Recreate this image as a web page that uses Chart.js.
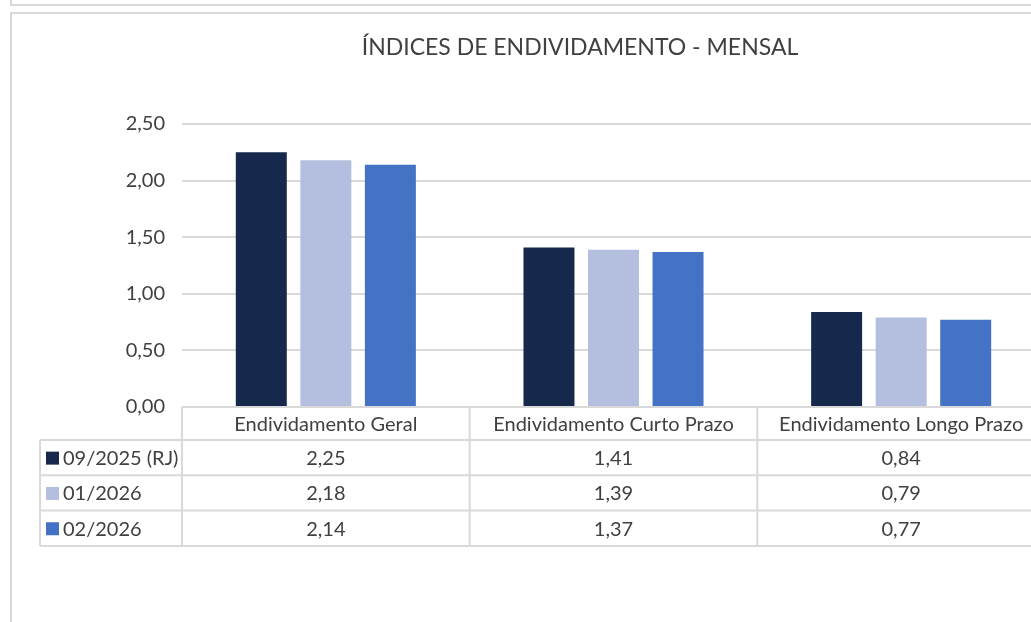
<!DOCTYPE html>
<html>
<head>
<meta charset="utf-8">
<script src="https://cdn.jsdelivr.net/npm/chart.js@4.4.1/dist/chart.umd.min.js"></script>
<style>
  html, body { margin: 0; padding: 0; background: #fff; overflow: hidden; width: 1031px; height: 622px; }
  #wrap { position: absolute; left: 0; top: 0; width: 1160px; height: 622px; }
  .frame { position: absolute; background: #d9d9d9; }
</style>
</head>
<body>
<div id="wrap"><canvas id="debtChart"></canvas></div>
<!-- excel window frame bits -->
<div class="frame" style="left:10px; top:0; width:2px; height:6px;"></div>
<div class="frame" style="left:10px; top:4px; width:1021px; height:2px;"></div>
<div class="frame" style="left:10px; top:12px; width:1021px; height:2px;"></div>
<div class="frame" style="left:10px; top:12px; width:2px; height:610px;"></div>
<script>
// data
const chartTitle = 'ÍNDICES DE ENDIVIDAMENTO - MENSAL';
const categories = ['Endividamento Geral', 'Endividamento Curto Prazo', 'Endividamento Longo Prazo'];
const seriesNames = ['09/2025 (RJ)', '01/2026', '02/2026'];
const valores092025 = [2.25, 1.41, 0.84];
const valores012026 = [2.18, 1.39, 0.79];
const valores022026 = [2.14, 1.37, 0.77];
const yMax = 2.5;
const yStep = 0.5;

const colors = ['#16294c', '#b4bfdf', '#4472c4'];
const textColor = '#404040';
const lineColor = '#d9d9d9';
const fontFamily = 'Lato, "Noto Sans", sans-serif';

const fmt = v => v.toFixed(2).replace('.', ',');

// title (excel centres it on the whole chart object, wider than the window)
// and the excel-like data table under the plot
const dataTablePlugin = {
  id: 'dataTable',
  afterDraw(chart) {
    const ctx = chart.ctx;
    const area = chart.chartArea;
    const xs = chart.scales.x;
    const n = categories.length;
    const w = (area.right - area.left) / n;
    const top = area.bottom;
    const headerH = 33;
    const rowH = 35.3;
    const legendLeft = 40;
    const bottom = top + headerH + rowH * seriesNames.length;

    ctx.save();
    ctx.fillStyle = textColor;
    ctx.font = '23px ' + fontFamily;
    ctx.textAlign = 'center';
    ctx.textBaseline = 'middle';
    ctx.fillText(chartTitle, chart.width / 2, 48);

    ctx.strokeStyle = lineColor;
    ctx.lineWidth = 2;
    ctx.beginPath();
    // header top + column lines
    ctx.moveTo(area.left, top); ctx.lineTo(area.right, top);
    for (let i = 0; i <= n; i++) {
      const x = area.left + i * w;
      ctx.moveTo(x, top); ctx.lineTo(x, bottom);
    }
    // row lines
    for (let r = 0; r <= seriesNames.length; r++) {
      const y = top + headerH + r * rowH;
      ctx.moveTo(legendLeft, y); ctx.lineTo(area.right, y);
    }
    ctx.moveTo(legendLeft, top + headerH); ctx.lineTo(legendLeft, bottom);
    ctx.stroke();

    ctx.font = '20px ' + fontFamily;
    categories.forEach((c, i) => {
      ctx.fillText(c, xs.getPixelForValue(i), top + headerH / 2 + 1);
    });

    chart.data.datasets.forEach((ds, r) => {
      const cy = top + headerH + r * rowH + rowH / 2 + 1;
      ctx.fillStyle = ds.backgroundColor;
      ctx.fillRect(legendLeft + 6, cy - 7, 13, 13);
      ctx.fillStyle = textColor;
      ctx.textAlign = 'left';
      ctx.fillText(ds.label, legendLeft + 23, cy);
      ctx.textAlign = 'center';
      ds.data.forEach((v, i) => {
        ctx.fillText(fmt(v), xs.getPixelForValue(i), cy);
      });
    });
    ctx.restore();
  }
};

const ctx = document.getElementById('debtChart').getContext('2d');
new Chart(ctx, {
  type: 'bar',
  data: {
    labels: categories,
    datasets: [
      { label: seriesNames[0], data: valores092025, backgroundColor: colors[0] },
      { label: seriesNames[1], data: valores012026, backgroundColor: colors[1] },
      { label: seriesNames[2], data: valores022026, backgroundColor: colors[2] }
    ]
  },
  options: {
    responsive: true,
    maintainAspectRatio: false,
    animation: false,
    layout: { padding: { left: 0, right: 115, top: 124, bottom: 0 } },
    datasets: {
      bar: { categoryPercentage: 0.673, barPercentage: 0.79 }
    },
    plugins: {
      legend: { display: false },
      tooltip: { enabled: false },
      title: { display: false }
    },
    scales: {
      x: {
        grid: { display: false },
        border: { display: false },
        ticks: { display: false },
        afterFit(scale) { scale.height = 622 - 407; }
      },
      y: {
        min: 0,
        max: yMax,
        grid: { color: lineColor, lineWidth: 2, drawTicks: false },
        border: { display: false },
        ticks: {
          stepSize: yStep,
          padding: 17,
          color: textColor,
          font: { family: fontFamily, size: 20 },
          callback: v => fmt(v)
        },
        afterFit(scale) { scale.width = 182; }
      }
    }
  },
  plugins: [dataTablePlugin]
});
</script>
</body>
</html>
